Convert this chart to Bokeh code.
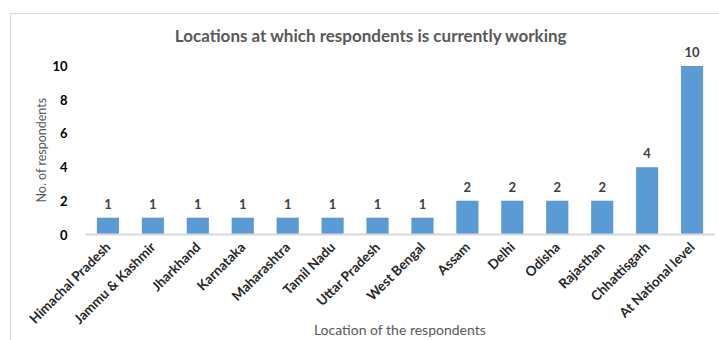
from bokeh.plotting import figure
from bokeh.models import ColumnDataSource, FixedTicker, Label, LabelSet, Title
from bokeh.embed import file_html
from bokeh.resources import INLINE
from bokeh.core.properties import value
import math

locations = ["Himachal Pradesh", "Jammu & Kashmir", "Jharkhand", "Karnataka",
             "Maharashtra", "Tamil Nadu", "Uttar Pradesh", "West Bengal",
             "Assam", "Delhi", "Odisha", "Rajasthan", "Chhattisgarh",
             "At National level"]
counts = [1, 1, 1, 1, 1, 1, 1, 1, 2, 2, 2, 2, 4, 10]
y_ticks = [0, 2, 4, 6, 8, 10]
title_text = "Locations at which respondents is currently working"
y_title = "No. of respondents"
x_title = "Location of the respondents"

FONT = "Lato"

src = ColumnDataSource(dict(loc=locations, n=counts, lbl=[str(c) for c in counts]))

p = figure(x_range=locations, y_range=(0, 12.65), width=709, height=327,
           output_backend="svg", toolbar_location=None,
           min_border_left=74, min_border_right=6, min_border_top=7,
           min_border_bottom=105)
p.styles = {"margin-left": "10px", "margin-top": "13px",
            "border-left": "1px solid #d9d9d9", "border-top": "1px solid #d9d9d9"}
p.outline_line_color = None
p.grid.grid_line_color = None

# shadow
p.vbar(x="loc", top="n", width=0.5, source=src, fill_color="#c8c8c8",
       line_color=None, fill_alpha=0.5)
p.vbar(x="loc", top="n", width=0.49, source=src, fill_color="#5B9BD5",
       line_color=None)

labels = LabelSet(x="loc", y="n", text="lbl", source=src, y_offset=9,
                  text_align="center", text_font=value(FONT),
                  text_font_style="bold", text_font_size="13px",
                  text_color="#404040")
p.add_layout(labels)

p.yaxis.ticker = FixedTicker(ticks=y_ticks)
p.yaxis.axis_line_color = None
p.yaxis.major_tick_line_color = None
p.yaxis.minor_tick_line_color = None
p.yaxis.major_label_text_font = FONT
p.yaxis.major_label_text_font_style = "bold"
p.yaxis.major_label_text_font_size = "13px"
p.yaxis.major_label_text_color = "#000000"
p.yaxis.major_label_standoff = 12

p.add_layout(Title(text=y_title, align="left", offset=32,
                   vertical_align="middle", standoff=0,
                   text_font=FONT, text_font_style="normal",
                   text_font_size="12.5px", text_color="#595959"), "left")

p.xaxis.axis_line_color = "#d9d9d9"
p.xaxis.axis_line_width = 2
p.xaxis.major_tick_line_color = None
p.xaxis.minor_tick_line_color = None
p.xaxis.major_label_orientation = math.pi / 4
p.xaxis.major_label_text_font = FONT
p.xaxis.major_label_text_font_style = "bold"
p.xaxis.major_label_text_font_size = "13.5px"
p.xaxis.major_label_text_color = "#262626"
p.xaxis.major_label_standoff = 4
p.xaxis.axis_label = x_title
p.xaxis.axis_label_text_font = FONT
p.xaxis.axis_label_text_font_style = "normal"
p.xaxis.axis_label_text_font_size = "14px"
p.xaxis.axis_label_text_color = "#595959"
p.xaxis.axis_label_standoff = -14

p.add_layout(Label(x=6.36, y=11.8, text=title_text, text_align="center",
                   text_baseline="middle", text_font=FONT,
                   text_font_style="bold", text_font_size="17px",
                   text_color="#595959"))

open("out.html", "w").write(file_html(p, INLINE))
